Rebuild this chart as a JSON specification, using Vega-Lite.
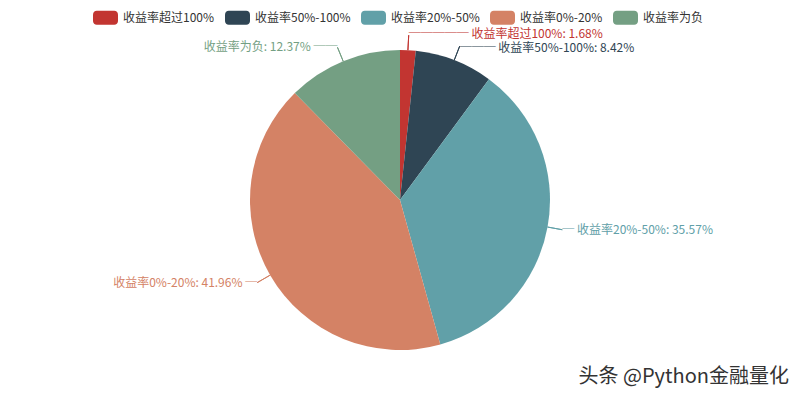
{
  "$schema": "https://vega.github.io/schema/vega-lite/v6.json",
  "width": 800,
  "height": 400,
  "padding": 0,
  "autosize": {"type": "none"},
  "background": "white",
  "title": {
    "text": "头条 @Python金融量化",
    "orient": "bottom",
    "anchor": "end",
    "frame": "group",
    "offset": -33,
    "dx": -11,
    "font": "Noto Sans CJK SC",
    "fontSize": 20,
    "fontWeight": "normal",
    "color": "#333"
  },
  "data": {
    "values": [
      {"name": "收益率超过100%", "value": 1.68},
      {"name": "收益率50%-100%", "value": 8.42},
      {"name": "收益率20%-50%", "value": 35.57},
      {"name": "收益率0%-20%", "value": 41.96},
      {"name": "收益率为负", "value": 12.37}
    ]
  },
  "transform": [
    {"window": [{"op": "sum", "field": "value", "as": "v1"}], "frame": [null, 0]},
    {"calculate": "datum.v1 - datum.value", "as": "v0"},
    {"calculate": "datum.v1 - datum.value / 2", "as": "mid"},
    {"calculate": "datum.name + ': ' + datum.value + '%'", "as": "label"}
  ],
  "encoding": {
    "color": {
      "field": "name",
      "type": "nominal",
      "scale": {
        "domain": ["收益率超过100%", "收益率50%-100%", "收益率20%-50%", "收益率0%-20%", "收益率为负"],
        "range": ["#c23531", "#2f4554", "#61a0a8", "#d48265", "#749f83"]
      },
      "legend": {
        "orient": "none",
        "legendX": 93,
        "legendY": 5,
        "direction": "horizontal",
        "columns": 5,
        "title": null,
        "padding": 0,
        "symbolType": "M-0.7,-0.56H0.7A0.3,0.3,0,0,1,1,-0.26V0.26A0.3,0.3,0,0,1,0.7,0.56H-0.7A0.3,0.3,0,0,1,-1,0.26V-0.26A0.3,0.3,0,0,1,-0.7,-0.56Z",
        "symbolSize": 625,
        "symbolStrokeWidth": 0,
        "symbolOpacity": 1,
        "labelFont": "Noto Sans CJK SC",
        "labelFontSize": 12,
        "labelColor": "#333",
        "labelOffset": 5,
        "columnPadding": 10
      }
    }
  },
  "layer": [
    {
      "mark": {"type": "arc", "radius": 150},
      "encoding": {
        "theta": {"field": "v0", "type": "quantitative", "stack": null, "scale": {"domain": [0, 100]}},
        "theta2": {"field": "v1"}
      }
    },
    {
      "mark": {"type": "arc", "filled": false, "radius": 165, "radius2": 150, "strokeWidth": 1},
      "encoding": {
        "theta": {"field": "mid", "type": "quantitative", "stack": null, "scale": {"domain": [0, 100]}},
        "theta2": {"field": "mid"}
      }
    },
    {
      "transform": [
        {"filter": "datum.name === '收益率超过100%'"},
        {"calculate": "'───── ' + datum.label", "as": "txt"}
      ],
      "mark": {"type": "text", "radius": 165, "align": "left", "baseline": "middle", "dy": -1.5, "font": "Noto Sans CJK SC", "fontSize": 12},
      "encoding": {
        "theta": {"field": "mid", "type": "quantitative", "stack": null, "scale": {"domain": [0, 100]}},
        "text": {"field": "txt"}
      }
    },
    {
      "transform": [
        {"filter": "datum.name === '收益率50%-100%'"},
        {"calculate": "'─── ' + datum.label", "as": "txt"}
      ],
      "mark": {"type": "text", "radius": 165, "align": "left", "baseline": "middle", "dy": 1.5, "font": "Noto Sans CJK SC", "fontSize": 12},
      "encoding": {
        "theta": {"field": "mid", "type": "quantitative", "stack": null, "scale": {"domain": [0, 100]}},
        "text": {"field": "txt"}
      }
    },
    {
      "transform": [
        {"filter": "datum.name === '收益率20%-50%'"},
        {"calculate": "'─ ' + datum.label", "as": "txt"}
      ],
      "mark": {"type": "text", "radius": 165, "align": "left", "baseline": "middle", "font": "Noto Sans CJK SC", "fontSize": 12},
      "encoding": {
        "theta": {"field": "mid", "type": "quantitative", "stack": null, "scale": {"domain": [0, 100]}},
        "text": {"field": "txt"}
      }
    },
    {
      "transform": [
        {"filter": "datum.name === '收益率0%-20%'"},
        {"calculate": "datum.label + ' ─'", "as": "txt"}
      ],
      "mark": {"type": "text", "radius": 165, "align": "right", "baseline": "middle", "font": "Noto Sans CJK SC", "fontSize": 12},
      "encoding": {
        "theta": {"field": "mid", "type": "quantitative", "stack": null, "scale": {"domain": [0, 100]}},
        "text": {"field": "txt"}
      }
    },
    {
      "transform": [
        {"filter": "datum.name === '收益率为负'"},
        {"calculate": "datum.label + '  ──'", "as": "txt"}
      ],
      "mark": {"type": "text", "radius": 165, "align": "right", "baseline": "middle", "font": "Noto Sans CJK SC", "fontSize": 12},
      "encoding": {
        "theta": {"field": "mid", "type": "quantitative", "stack": null, "scale": {"domain": [0, 100]}},
        "text": {"field": "txt"}
      }
    }
  ],
  "config": {
    "view": {"stroke": null}
  }
}
